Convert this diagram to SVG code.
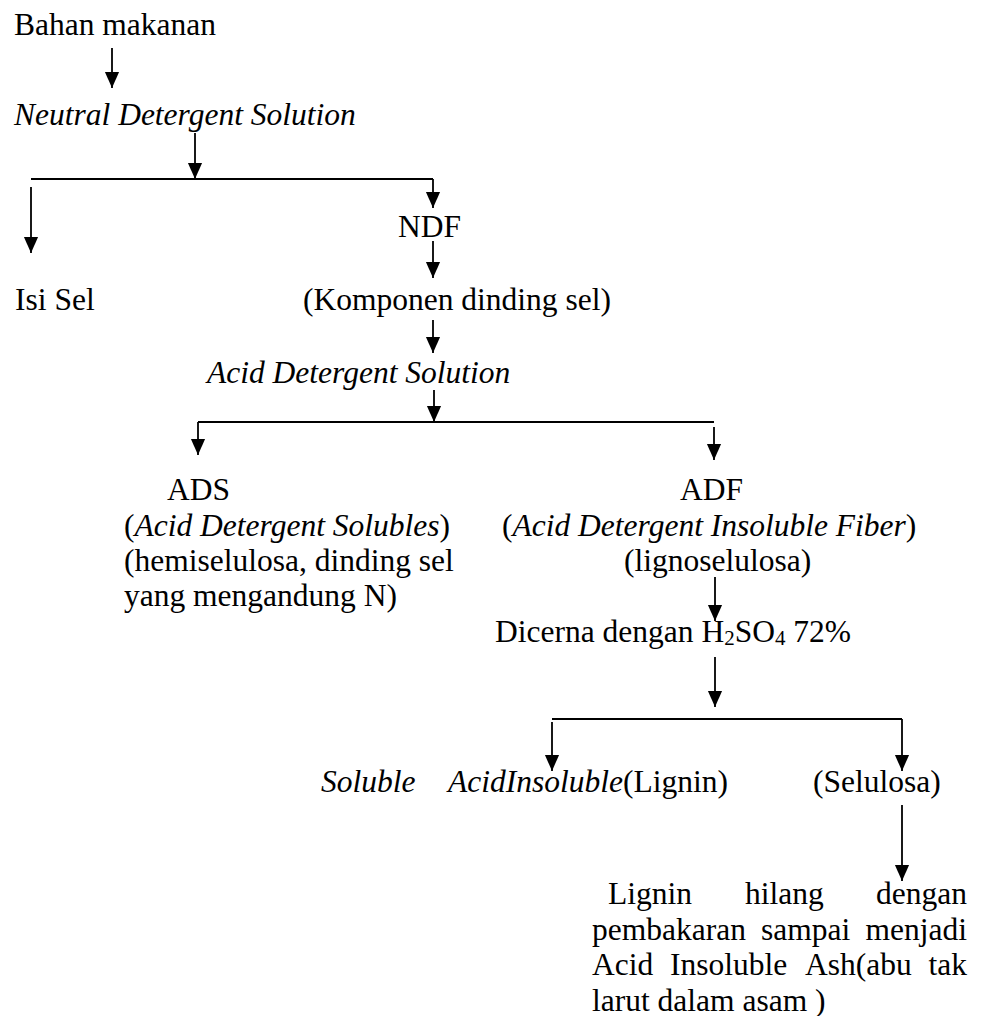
<svg xmlns="http://www.w3.org/2000/svg" width="987" height="1016" viewBox="0 0 987 1016">
<style>
text{font-family:"Liberation Serif","Times New Roman",serif;font-size:31.5px;fill:#000}
.i{font-style:italic}
.sub{font-size:21px}
.c{stroke:#000;stroke-width:1.8;fill:none}
.a{marker-end:url(#ah)}
</style>
<defs>
<marker id="ah" markerUnits="userSpaceOnUse" markerWidth="16" markerHeight="17" viewBox="0 0 17 16" refX="17" refY="8" orient="auto">
<path d="M0,0.5 L17,8 L0,15.5 Z" fill="#000"/>
</marker>
</defs>
<rect width="987" height="1016" fill="#fff"/>
<g id="connectors">
<path class="c a" d="M112,48 V88"/>
<path class="c a" d="M195,133 V179"/>
<path class="c" d="M31,179 H433"/>
<path class="c a" d="M31,187 V253"/>
<path class="c a" d="M433,179 V208"/>
<path class="c a" d="M433,241 V278"/>
<path class="c a" d="M433,320 V353"/>
<path class="c a" d="M434,390 V422"/>
<path class="c" d="M198,422 H714"/>
<path class="c a" d="M198,422 V455"/>
<path class="c a" d="M714,427 V460"/>
<path class="c a" d="M715,577 V621"/>
<path class="c a" d="M715,657 V707"/>
<path class="c" d="M552,719 H902"/>
<path class="c a" d="M552,722 V771"/>
<path class="c a" d="M902,719 V771"/>
<path class="c a" d="M902,805 V881"/>
</g>
<g id="bahan"><text x="14" y="35">Bahan makanan</text></g>
<g id="nds"><text class="i" x="14" y="125">Neutral Detergent Solution</text></g>
<g id="isisel"><text x="15" y="310">Isi Sel</text></g>
<g id="ndf"><text x="398" y="237">NDF</text></g>
<g id="komponen"><text x="303" y="310">(Komponen dinding sel)</text></g>
<g id="adsol"><text class="i" x="207" y="383">Acid Detergent Solution</text></g>
<g id="ads">
<text x="167" y="500">ADS</text>
<text x="124" y="536">(<tspan class="i">Acid Detergent Solubles</tspan>)</text>
<text x="124" y="571">(hemiselulosa, dinding sel</text>
<text x="124" y="606">yang mengandung N)</text>
</g>
<g id="adf">
<text x="680" y="500">ADF</text>
<text x="502" y="536">(<tspan class="i">Acid Detergent Insoluble Fiber</tspan>)</text>
<text x="624" y="571">(lignoselulosa)</text>
</g>
<g id="dicerna"><text x="495" y="642">Dicerna dengan H<tspan class="sub" dy="3">2</tspan><tspan dy="-3">SO</tspan><tspan class="sub" dy="3">4</tspan><tspan dy="-3"> 72%</tspan></text></g>
<g id="soluble"><text class="i" x="321" y="792">Soluble</text></g>
<g id="lignin"><text x="448" y="792"><tspan class="i">AcidInsoluble</tspan>(Lignin)</text></g>
<g id="selulosa"><text x="813" y="792">(Selulosa)</text></g>
<g id="ash">
<text y="904"><tspan x="608">Lignin </tspan><tspan x="745">hilang </tspan><tspan x="967" text-anchor="end">dengan</tspan></text>
<text y="939.5"><tspan x="592">pembakaran </tspan><tspan x="761">sampai </tspan><tspan x="967" text-anchor="end">menjadi</tspan></text>
<text y="975"><tspan x="592">Acid </tspan><tspan x="670">Insoluble </tspan><tspan x="805">Ash(abu </tspan><tspan x="967" text-anchor="end">tak</tspan></text>
<text x="592" y="1010.5">larut dalam asam )</text>
</g>
</svg>
